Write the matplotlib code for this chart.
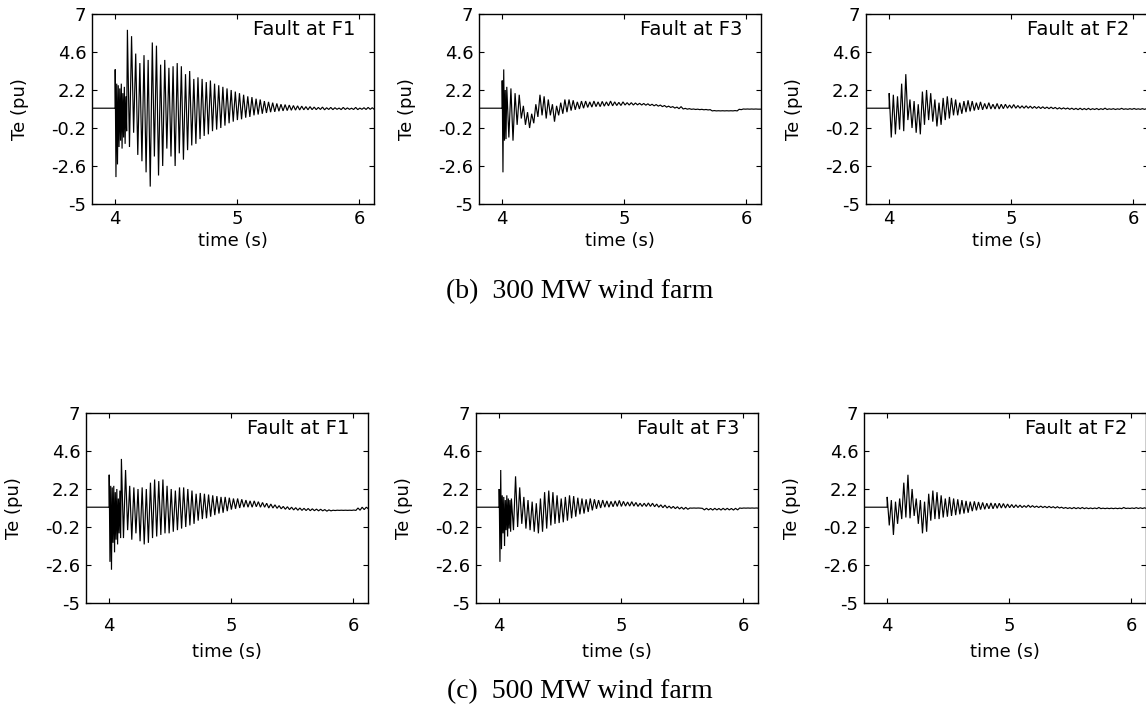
import matplotlib
matplotlib.use("Agg")
import matplotlib.pyplot as plt

# ---------------------------------------------------------------------------
# Axis settings shared by all panels
# ---------------------------------------------------------------------------
T_LEFT, T_RIGHT = 3.81, 6.12
Y_LIM = (-5, 7)
Y_TICKS = [-5, -2.6, -0.2, 2.2, 4.6, 7]
X_TICKS = [4, 5, 6]

fault_labels = ["Fault at F1", "Fault at F3", "Fault at F2"]
captions = ["(b)  300 MW wind farm", "(c)  500 MW wind farm"]

T_FAULT = 4.0
PRE_FAULT_TE = 1.05

# ---------------------------------------------------------------------------
# Electromagnetic torque Te (pu): successive peak / trough values.
# "burst" = fast swing right after the fault, "main" = following cycles.
# ---------------------------------------------------------------------------

# 300 MW, fault at F1
te300_f1_burst_hi = [3.5, 2.6, 2.5, 2.3, 2.6, 2.0, 2.4, 1.8]
te300_f1_burst_lo = [-3.3, -2.5, -1.4, -1.0, -1.5, -0.8, -1.2, -0.4]
te300_f1_hi = [6.0, 5.6, 4.5, 3.9, 4.4, 4.1, 5.2, 5.0, 3.8, 4.1,
               3.6, 3.7, 3.9, 3.7, 3.2, 3.4, 2.9, 3.0, 2.9, 2.7,
               2.8, 2.6, 2.5, 2.4, 2.3, 2.2, 2.1, 2.0, 1.9, 1.8,
               1.75, 1.65, 1.6, 1.5, 1.45, 1.4, 1.35, 1.3, 1.28, 1.25,
               1.22, 1.2, 1.18, 1.15, 1.15, 1.12, 1.1, 1.12, 1.08, 1.1,
               1.08, 1.06, 1.1, 1.07, 1.05, 1.1, 1.06, 1.08, 1.1, 1.08]
te300_f1_lo = [-1.4, -0.5, -1.9, -2.3, -3.0, -3.9, -2.0, -3.2, -2.6, -1.5,
               -2.0, -2.6, -1.8, -2.2, -1.6, -1.3, -1.2, -0.9, -0.7, -0.6,
               -0.4, -0.3, -0.2, -0.05, 0.1, 0.2, 0.3, 0.35, 0.45, 0.5,
               0.6, 0.65, 0.7, 0.75, 0.8, 0.82, 0.86, 0.88, 0.9, 0.92,
               0.93, 0.94, 0.95, 0.95, 0.96, 0.96, 0.97, 0.95, 0.97, 0.96,
               0.98, 0.96, 0.97, 0.98, 0.97, 0.96, 0.98, 0.97, 0.98, 0.97]

# 300 MW, fault at F3
te300_f3_burst_hi = [2.8, 3.5, 2.2]
te300_f3_burst_lo = [-3.0, -1.0, -0.9]
te300_f3_hi = [2.4, 2.3, 2.0, 1.9, 1.2, 0.8, 0.7, 1.3, 1.9, 1.8,
               1.6, 1.3, 1.2, 1.4, 1.6, 1.6, 1.55, 1.45, 1.5, 1.5,
               1.45, 1.5, 1.45, 1.48, 1.45, 1.5, 1.45, 1.42, 1.45, 1.4,
               1.4, 1.38, 1.36, 1.35, 1.33, 1.3, 1.28, 1.25, 1.22, 1.18,
               1.15, 1.12, 1.15, 1.04, 1.02, 1.0, 0.99, 0.98, 0.97, 0.96,
               0.9, 0.89, 0.89, 0.89, 0.89, 0.9, 0.98, 1.0, 1.0, 1.0, 1.0]
te300_f3_lo = [-0.8, -1.0, 0.0, 0.4, 0.0, -0.2, 0.1, 0.5, 0.6, 0.4,
               0.6, 0.2, 0.6, 0.7, 0.8, 0.9, 0.95, 1.0, 1.05, 1.1,
               1.12, 1.15, 1.15, 1.18, 1.2, 1.2, 1.22, 1.22, 1.25, 1.25,
               1.25, 1.26, 1.25, 1.24, 1.22, 1.2, 1.18, 1.15, 1.12, 1.1,
               1.06, 1.02, 1.0, 0.99, 0.98, 0.97, 0.96, 0.95, 0.94, 0.88,
               0.88, 0.88, 0.88, 0.88, 0.88, 0.88, 0.96, 0.99, 0.99, 0.99, 0.99]

# 300 MW, fault at F2
te300_f2_burst_hi = []
te300_f2_burst_lo = []
te300_f2_hi = [2.0, 1.9, 1.8, 2.6, 3.2, 1.6, 1.5, 1.3, 2.1, 2.2,
               2.0, 1.6, 1.4, 1.7, 1.8, 1.7, 1.6, 1.4, 1.5, 1.55,
               1.5, 1.4, 1.45, 1.35, 1.4, 1.3, 1.35, 1.3, 1.3, 1.25,
               1.28, 1.22, 1.2, 1.2, 1.18, 1.16, 1.15, 1.14, 1.12, 1.12,
               1.1, 1.08, 1.07, 1.06, 1.05, 1.04, 1.05, 1.03, 1.04, 1.02,
               1.03, 1.02, 1.05, 1.01, 1.02, 1.01, 1.04, 1.01, 1.02, 1.03,
               1.01, 1.02, 1.02]
te300_f2_lo = [-0.8, -0.6, -0.3, -0.4, 0.3, -0.2, -0.5, -0.6, 0.0, 0.3,
               0.2, -0.1, 0.0, 0.3, 0.4, 0.6, 0.6, 0.7, 0.8, 0.85,
               0.9, 0.95, 0.95, 1.0, 1.0, 1.0, 1.0, 1.02, 1.05, 1.05,
               1.05, 1.05, 1.05, 1.05, 1.04, 1.04, 1.03, 1.03, 1.02, 1.02,
               1.0, 1.0, 1.0, 0.98, 0.97, 0.96, 0.96, 0.96, 0.96, 0.97,
               0.96, 0.97, 0.97, 0.98, 0.97, 0.98, 0.98, 0.98, 0.98, 0.98,
               0.98, 0.98, 0.99]

# 500 MW, fault at F1
te500_f1_burst_hi = [3.1, 2.4, 2.3, 2.4, 2.0, 2.2, 1.6, 2.1]
te500_f1_burst_lo = [-2.4, -2.9, -1.2, -1.8, -1.0, -1.3, -0.6, -0.9]
te500_f1_hi = [4.1, 3.4, 2.4, 2.3, 2.2, 2.3, 2.2, 2.6, 2.8, 2.7,
               2.8, 2.4, 2.2, 2.1, 2.3, 2.3, 2.2, 2.1, 1.9, 1.95,
               1.9, 1.85, 1.8, 1.75, 1.7, 1.7, 1.65, 1.6, 1.6, 1.55,
               1.5, 1.45, 1.45, 1.4, 1.35, 1.3, 1.25, 1.2, 1.15, 1.1,
               1.08, 1.05, 1.02, 1.0, 0.98, 0.97, 0.95, 0.93, 0.92, 0.9,
               0.88, 0.86, 0.86, 0.86, 0.86, 0.86, 0.87, 1.0, 1.05, 1.05]
te500_f1_lo = [-0.9, -0.4, -1.0, -0.6, -1.1, -1.3, -1.2, -0.9, -0.8, -0.7,
               -0.6, -0.6, -0.5, -0.4, -0.3, -0.2, -0.1, 0.0, 0.2, 0.3,
               0.35, 0.45, 0.55, 0.65, 0.7, 0.8, 0.9, 0.95, 1.0, 1.05,
               1.05, 1.05, 1.08, 1.05, 1.05, 1.0, 1.0, 0.98, 0.95, 0.92,
               0.9, 0.88, 0.86, 0.85, 0.84, 0.83, 0.83, 0.82, 0.82, 0.8,
               0.82, 0.84, 0.85, 0.85, 0.85, 0.85, 0.85, 0.86, 0.9, 0.95]

# 500 MW, fault at F3
te500_f3_burst_hi = [2.2, 3.4, 1.8, 1.7, 1.5, 1.8, 1.6, 1.5]
te500_f3_burst_lo = [-2.4, -1.6, -0.6, -1.4, -0.4, -0.8, -0.3, -0.5]
te500_f3_hi = [1.6, 3.0, 2.3, 1.7, 1.5, 1.4, 1.3, 1.6, 2.0, 2.1,
               2.0, 1.8, 1.6, 1.7, 1.8, 1.75, 1.65, 1.6, 1.55, 1.6,
               1.55, 1.5, 1.5, 1.45, 1.42, 1.45, 1.48, 1.42, 1.38, 1.4,
               1.35, 1.3, 1.3, 1.32, 1.3, 1.25, 1.2, 1.18, 1.12, 1.1,
               1.08, 1.05, 1.04, 1.0, 1.0, 1.0, 0.98, 0.98, 0.97, 0.98,
               0.97, 0.98, 0.98, 0.97, 0.98, 1.0, 1.0, 1.0, 1.0, 1.0]
te500_f3_lo = [-0.4, -0.2, 0.0, -0.3, -0.4, -0.5, -0.6, -0.5, -0.3, -0.1,
               0.0, 0.05, 0.1, 0.2, 0.35, 0.45, 0.6, 0.65, 0.75, 0.85,
               0.95, 1.0, 1.05, 1.05, 1.08, 1.1, 1.1, 1.12, 1.12, 1.12,
               1.1, 1.1, 1.1, 1.1, 1.08, 1.05, 1.02, 1.0, 0.98, 0.96,
               0.94, 0.92, 0.92, 0.99, 0.99, 0.99, 0.88, 0.88, 0.87, 0.88,
               0.87, 0.88, 0.88, 0.87, 0.88, 0.98, 0.99, 0.99, 0.99, 0.99]

# 500 MW, fault at F2
te500_f2_burst_hi = []
te500_f2_burst_lo = []
te500_f2_hi = [1.7, 1.5, 1.4, 1.6, 2.6, 3.1, 2.2, 1.6, 1.5, 1.4,
               1.9, 2.1, 2.0, 1.8, 1.6, 1.7, 1.6, 1.55, 1.5, 1.45,
               1.4, 1.42, 1.38, 1.35, 1.3, 1.32, 1.3, 1.3, 1.28, 1.25,
               1.22, 1.2, 1.18, 1.15, 1.18, 1.15, 1.12, 1.12, 1.1, 1.1,
               1.08, 1.08, 1.05, 1.03, 1.02, 1.03, 1.02, 1.03, 1.01, 1.0,
               1.0, 1.03, 0.99, 0.99, 0.99, 0.99, 0.99, 1.03, 0.99, 1.0,
               1.02, 1.01, 1.01]
te500_f2_lo = [-0.1, -0.7, 0.0, 0.3, 0.4, 0.35, 0.5, 0.0, -0.6, -0.5,
               0.2, 0.3, 0.3, 0.4, 0.45, 0.5, 0.55, 0.6, 0.65, 0.7,
               0.8, 0.85, 0.9, 0.92, 0.95, 0.95, 0.98, 1.0, 1.0, 1.02,
               1.02, 1.03, 1.03, 1.04, 1.04, 1.04, 1.03, 1.03, 1.02, 1.02,
               1.0, 1.0, 0.98, 0.97, 0.96, 0.96, 0.96, 0.96, 0.96, 0.96,
               0.96, 0.96, 0.96, 0.96, 0.96, 0.96, 0.96, 0.97, 0.97, 0.97,
               0.97, 0.97, 0.97]

# Step between successive swing cycles (s)
BURST_STEP = 0.0125
MAIN_STEP = 0.034


def build_trace(burst_hi, burst_lo, main_hi, main_lo):
    """Join the pre-fault level and the peak/trough sequence into one curve."""
    t = [T_LEFT, T_FAULT]
    y = [PRE_FAULT_TE, PRE_FAULT_TE]
    tk = T_FAULT
    for h, l in zip(burst_hi, burst_lo):
        t += [tk, tk + BURST_STEP / 2]
        y += [h, l]
        tk += BURST_STEP
    for h, l in zip(main_hi, main_lo):
        t += [tk, tk + MAIN_STEP / 2]
        y += [h, l]
        tk += MAIN_STEP
    t.append(max(tk, T_RIGHT + 0.05))
    y.append(y[-1])
    return t, y


panels = [
    [(te300_f1_burst_hi, te300_f1_burst_lo, te300_f1_hi, te300_f1_lo),
     (te300_f3_burst_hi, te300_f3_burst_lo, te300_f3_hi, te300_f3_lo),
     (te300_f2_burst_hi, te300_f2_burst_lo, te300_f2_hi, te300_f2_lo)],
    [(te500_f1_burst_hi, te500_f1_burst_lo, te500_f1_hi, te500_f1_lo),
     (te500_f3_burst_hi, te500_f3_burst_lo, te500_f3_hi, te500_f3_lo),
     (te500_f2_burst_hi, te500_f2_burst_lo, te500_f2_hi, te500_f2_lo)],
]

# ---------------------------------------------------------------------------
# Figure layout (pixel geometry of a 1146 x 708 canvas)
# ---------------------------------------------------------------------------
W, H = 1146, 708
fig = plt.figure(figsize=(W / 100, H / 100), dpi=100)
fig.patch.set_facecolor("white")

plt.rcParams["font.family"] = ["DejaVu Sans"]

row_lefts = [[92, 479, 866], [86, 476, 864]]
row_bottoms = [204, 603]
AX_W, AX_H = 282, 190
tick_pads = [4, 10]
xlabel_offsets = [-0.15, -0.21]
FS = 13

for r in range(2):
    for c in range(3):
        left = row_lefts[r][c]
        ax = fig.add_axes([left / W, (H - row_bottoms[r]) / H, AX_W / W, AX_H / H])
        t, y = build_trace(*panels[r][c])
        ax.plot(t, y, color="black", linewidth=0.85, solid_joinstyle="miter")
        ax.set_xlim(T_LEFT, T_RIGHT)
        ax.set_ylim(*Y_LIM)
        ax.set_xticks(X_TICKS)
        ax.set_yticks(Y_TICKS)
        ax.set_yticklabels([f"{v:g}" for v in Y_TICKS])
        ax.tick_params(direction="in", length=3.5, width=0.8, top=True, right=True,
                       labelsize=FS, colors="black")
        ax.tick_params(axis="x", pad=tick_pads[r])
        ax.tick_params(axis="y", pad=4)
        for s in ax.spines.values():
            s.set_linewidth(1.0)
            s.set_color("black")
        ax.set_ylabel("Te (pu)", fontsize=FS)
        ax.yaxis.set_label_coords(-0.225, 0.5)
        ax.set_xlabel("time (s)", fontsize=FS)
        ax.xaxis.set_label_coords(0.5, xlabel_offsets[r])
        ax.text(0.935, 0.97, fault_labels[c], transform=ax.transAxes,
                ha="right", va="top", fontsize=14)

caption_y = [292, 692]
for r in range(2):
    fig.text(580 / W, 1 - caption_y[r] / H, captions[r], ha="center", va="center",
             fontsize=20, family="Liberation Serif")

fig.savefig("out.png", dpi=100, facecolor="white")
